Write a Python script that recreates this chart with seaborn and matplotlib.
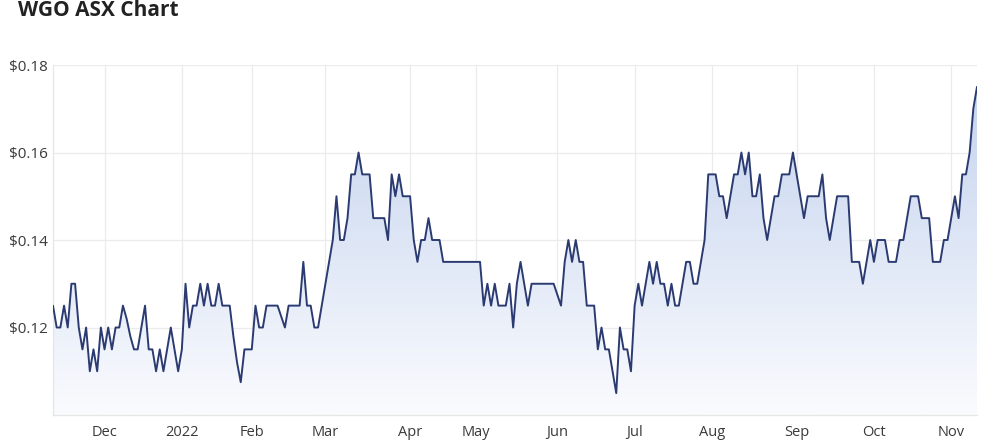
import numpy as np
import pandas as pd
import matplotlib
matplotlib.use("Agg")
import matplotlib.pyplot as plt
import seaborn as sns
from matplotlib.colors import LinearSegmentedColormap

# ---------------- data ----------------
title = "WGO ASX Chart"
start_date = "2021-11-11"
end_date = "2022-11-10"
asx_holidays = ["2021-12-27", "2021-12-28", "2022-01-03", "2022-01-26",
                "2022-04-15", "2022-04-18", "2022-04-25", "2022-06-13",
                "2022-09-22"]
prices = [
    0.125, 0.12, 0.12, 0.125, 0.12, 0.13, 0.13, 0.12, 0.115, 0.12,
    0.11, 0.115, 0.11, 0.12, 0.115, 0.12, 0.115, 0.12, 0.12, 0.125,
    0.122, 0.118, 0.115, 0.115, 0.12, 0.125, 0.115, 0.115, 0.11, 0.115,
    0.11, 0.115, 0.12, 0.115, 0.11, 0.115, 0.13, 0.12, 0.125, 0.125,
    0.13, 0.125, 0.13, 0.125, 0.125, 0.13, 0.125, 0.125, 0.125, 0.118,
    0.112, 0.1075, 0.115, 0.115, 0.115, 0.125, 0.12, 0.12, 0.125, 0.125,
    0.125, 0.125, 0.1225, 0.12, 0.125, 0.125, 0.125, 0.125, 0.135, 0.125,
    0.125, 0.12, 0.12, 0.125, 0.13, 0.135, 0.14, 0.15, 0.14, 0.14,
    0.145, 0.155, 0.155, 0.16, 0.155, 0.155, 0.155, 0.145, 0.145, 0.145,
    0.145, 0.14, 0.155, 0.15, 0.155, 0.15, 0.15, 0.15, 0.14, 0.135,
    0.14, 0.14, 0.145, 0.14, 0.14, 0.14, 0.135, 0.135, 0.135, 0.135,
    0.135, 0.135, 0.135, 0.135, 0.135, 0.135, 0.135, 0.125, 0.13, 0.125,
    0.13, 0.125, 0.125, 0.125, 0.13, 0.12, 0.13, 0.135, 0.13, 0.125,
    0.13, 0.13, 0.13, 0.13, 0.13, 0.13, 0.13, 0.1275, 0.125, 0.135,
    0.14, 0.135, 0.14, 0.135, 0.135, 0.125, 0.125, 0.125, 0.115, 0.12,
    0.115, 0.115, 0.11, 0.105, 0.12, 0.115, 0.115, 0.11, 0.125, 0.13,
    0.125, 0.13, 0.135, 0.13, 0.135, 0.13, 0.13, 0.125, 0.13, 0.125,
    0.125, 0.13, 0.135, 0.135, 0.13, 0.13, 0.135, 0.14, 0.155, 0.155,
    0.155, 0.15, 0.15, 0.145, 0.15, 0.155, 0.155, 0.16, 0.155, 0.16,
    0.15, 0.15, 0.155, 0.145, 0.14, 0.145, 0.15, 0.15, 0.155, 0.155,
    0.155, 0.16, 0.155, 0.15, 0.145, 0.15, 0.15, 0.15, 0.15, 0.155,
    0.145, 0.14, 0.145, 0.15, 0.15, 0.15, 0.15, 0.135, 0.135, 0.135,
    0.13, 0.135, 0.14, 0.135, 0.14, 0.14, 0.14, 0.135, 0.135, 0.135,
    0.14, 0.14, 0.145, 0.15, 0.15, 0.15, 0.145, 0.145, 0.145, 0.135,
    0.135, 0.135, 0.14, 0.14, 0.145, 0.15, 0.145, 0.155, 0.155, 0.16,
    0.17, 0.175,
]
y_ticks = [0.12, 0.14, 0.16, 0.18]
y_tick_labels = ["$0.12", "$0.14", "$0.16", "$0.18"]
y_range = [0.10, 0.18]

# ---------------- build frame ----------------
dates = pd.bdate_range(start_date, end_date)
dates = dates[~dates.isin(pd.to_datetime(asx_holidays))]
n = min(len(dates), len(prices))
df = pd.DataFrame({"day": np.arange(n), "date": dates[:n], "price": prices[:n]})

firsts = df.groupby(df["date"].dt.to_period("M"))["day"].min().iloc[1:]
tick_pos = list(firsts.values)
tick_lab = [("%d" % p.year) if p.month == 1 else p.strftime("%b") for p in firsts.index]

# ---------------- style ----------------
sns.set_theme(style="white")
plt.rcParams["font.family"] = ["Open Sans", "DejaVu Sans"]

line_color = "#2b3b72"
grid_color = "#ebebeb"
text_color = "#3a3a3a"

fig = plt.figure(figsize=(10, 4.44), dpi=100)
ax = fig.add_axes([0.053, 0.0653, 0.924, 0.7883])

# gradient fill under the line
fill = ax.fill_between(df["day"], df["price"], y_range[0], facecolor="none",
                       edgecolor="none")
cmap = LinearSegmentedColormap.from_list("g", ["#fafbfe", "#c1d1ed"])
grad = np.linspace(1, 0, 256).reshape(-1, 1)
im = ax.imshow(grad, extent=[df["day"].iloc[0], df["day"].iloc[-1], y_range[0], y_range[1]],
               aspect="auto", cmap=cmap, origin="upper", zorder=1)
im.set_clip_path(fill.get_paths()[0], transform=ax.transData)

sns.lineplot(data=df, x="day", y="price", color=line_color, linewidth=1.4,
             ax=ax, zorder=3)

ax.set_xlim(df["day"].iloc[0], df["day"].iloc[-1])
ax.set_ylim(*y_range)
ax.set_yticks(y_ticks)
ax.set_yticklabels(y_tick_labels)
ax.set_xticks(tick_pos)
ax.set_xticklabels(tick_lab)
ax.set_xlabel("")
ax.set_ylabel("")

ax.grid(True, color=grid_color, linewidth=0.9, zorder=0)
ax.set_axisbelow(True)
for s in ["top", "right"]:
    ax.spines[s].set_visible(False)
for s in ["left", "bottom"]:
    ax.spines[s].set_color("#e6e6e6")
    ax.spines[s].set_linewidth(0.9)

ax.tick_params(axis="y", length=0, pad=4, labelsize=11, labelcolor=text_color)
ax.tick_params(axis="x", length=0, pad=7, labelsize=10.5, labelcolor=text_color)

fig.text(0.018, 1 - 15.5 / 444, title, fontsize=15, fontweight="bold",
         color="#222222", va="baseline", ha="left")

fig.savefig("out.png", dpi=100)
